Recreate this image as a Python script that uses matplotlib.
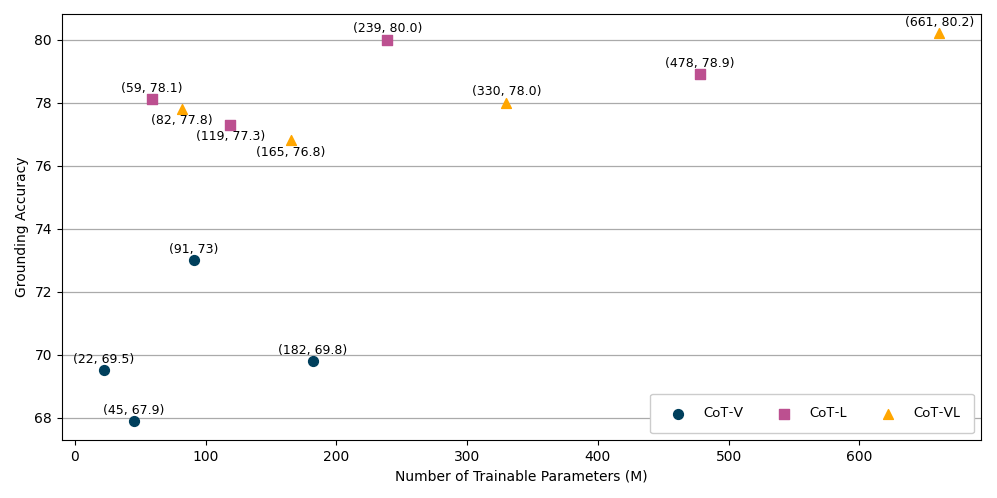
import matplotlib
matplotlib.use("Agg")
import matplotlib.pyplot as plt

# data
v_params = [22, 45, 91, 182]
v_acc = [69.5, 67.9, 73.0, 69.8]
v_labels = ["(22, 69.5)", "(45, 67.9)", "(91, 73)", "(182, 69.8)"]

l_params = [59, 119, 239, 478]
l_acc = [78.1, 77.3, 80.0, 78.9]
l_labels = ["(59, 78.1)", "(119, 77.3)", "(239, 80.0)", "(478, 78.9)"]

vl_params = [82, 165, 330, 661]
vl_acc = [77.8, 76.8, 78.0, 80.2]
vl_labels = ["(82, 77.8)", "(165, 76.8)", "(330, 78.0)", "(661, 80.2)"]

below = {"(82, 77.8)", "(119, 77.3)", "(165, 76.8)"}

fig, ax = plt.subplots(figsize=(9.97, 4.98), dpi=100)
ax.grid(axis="y", color="#aaaaaa", linewidth=0.9)
ax.set_axisbelow(True)

series = [
    (v_params, v_acc, v_labels, "o", "#003f5c", "CoT-V"),
    (l_params, l_acc, l_labels, "s", "#bc5090", "CoT-L"),
    (vl_params, vl_acc, vl_labels, "^", "#ffa600", "CoT-VL"),
]
for xs, ys, labs, m, c, name in series:
    ax.scatter(xs, ys, marker=m, color=c, s=50, label=name, zorder=3)
    for x, y, t in zip(xs, ys, labs):
        if t in below:
            ax.annotate(t, (x, y), xytext=(0, -4), textcoords="offset points",
                        ha="center", va="top", fontsize=9)
        else:
            ax.annotate(t, (x, y), xytext=(0, 3), textcoords="offset points",
                        ha="center", va="bottom", fontsize=9)

ax.set_xlabel("Number of Trainable Parameters (M)", fontsize=10)
ax.set_ylabel("Grounding Accuracy", fontsize=10)
ax.tick_params(labelsize=10)

leg = ax.legend(loc="lower right", ncol=3, prop={"family": "Lato", "size": 10},
                columnspacing=1.9, handletextpad=0.85, borderpad=1.0,
                borderaxespad=0.5, markerscale=1.0, fancybox=True, framealpha=1.0)

fig.subplots_adjust(left=0.062, right=0.984, top=0.972, bottom=0.116)
fig.savefig("out.png", dpi=100)
